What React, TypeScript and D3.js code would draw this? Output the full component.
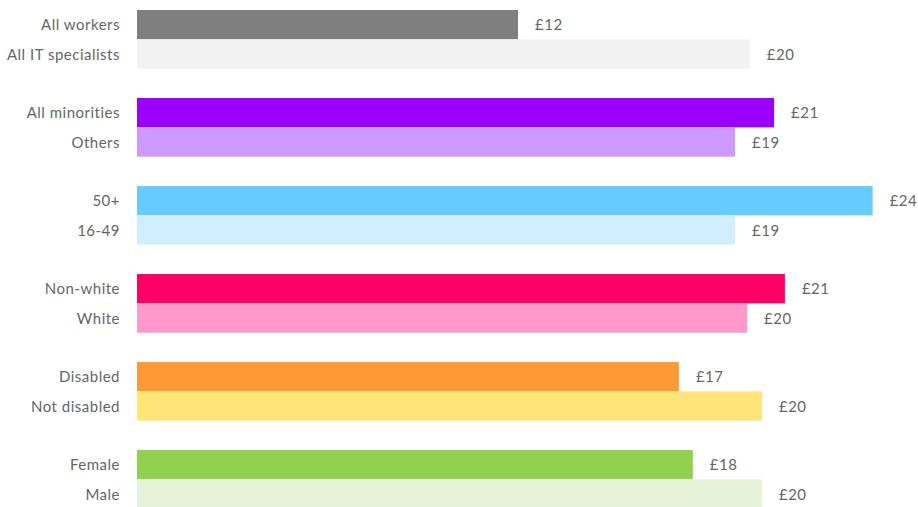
import React from "react";
import * as d3 from "d3";

const categories = [
  "All workers", "All IT specialists",
  "All minorities", "Others",
  "50+", "16-49",
  "Non-white", "White",
  "Disabled", "Not disabled",
  "Female", "Male",
];
const values = [12.29, 19.77, 20.55, 19.29, 23.73, 19.29, 20.9, 19.68, 17.48, 20.16, 17.93, 20.16];
const colors = [
  "#7f7f7f", "#f2f2f2",
  "#9900ff", "#cc99ff",
  "#66ccff", "#d1eeff",
  "#ff0066", "#ff99cc",
  "#ff9933", "#ffe47a",
  "#92d050", "#e6f3d9",
];

const W = 918;
const H = 507;

export default function App() {
  const slots = d3.range(17);
  const y = d3.scaleBand<number>().domain(slots).range([10, 508.7]).padding(0);
  const x = d3.scaleLinear().domain([0, 25]).range([137, 912]);
  const slotOf = (i: number) => Math.floor(i / 2) * 3 + (i % 2);
  const font = "Lato, 'Open Sans', sans-serif";
  return (
    <svg width={W} height={H} style={{ position: "absolute", left: 0, top: 0, background: "#fff" }}>
      {categories.map((c, i) => {
        const y0 = y(slotOf(i))!;
        const bw = y.bandwidth();
        const cy = y0 + bw / 2;
        return (
          <g key={c}>
            <rect x={x(0)} y={y0} width={x(values[i]) - x(0)} height={bw} fill={colors[i]} />
            <text x={120} y={cy + 5.5} textAnchor="end" fontFamily={font} fontSize={15} letterSpacing={0.5} fill="#666666">
              {c}
            </text>
            <text x={x(values[i]) + 17} y={cy + 5.5} fontFamily={font} fontSize={15} letterSpacing={0.5} fill="#666666">
              {"£" + Math.round(values[i])}
            </text>
          </g>
        );
      })}
    </svg>
  );
}
